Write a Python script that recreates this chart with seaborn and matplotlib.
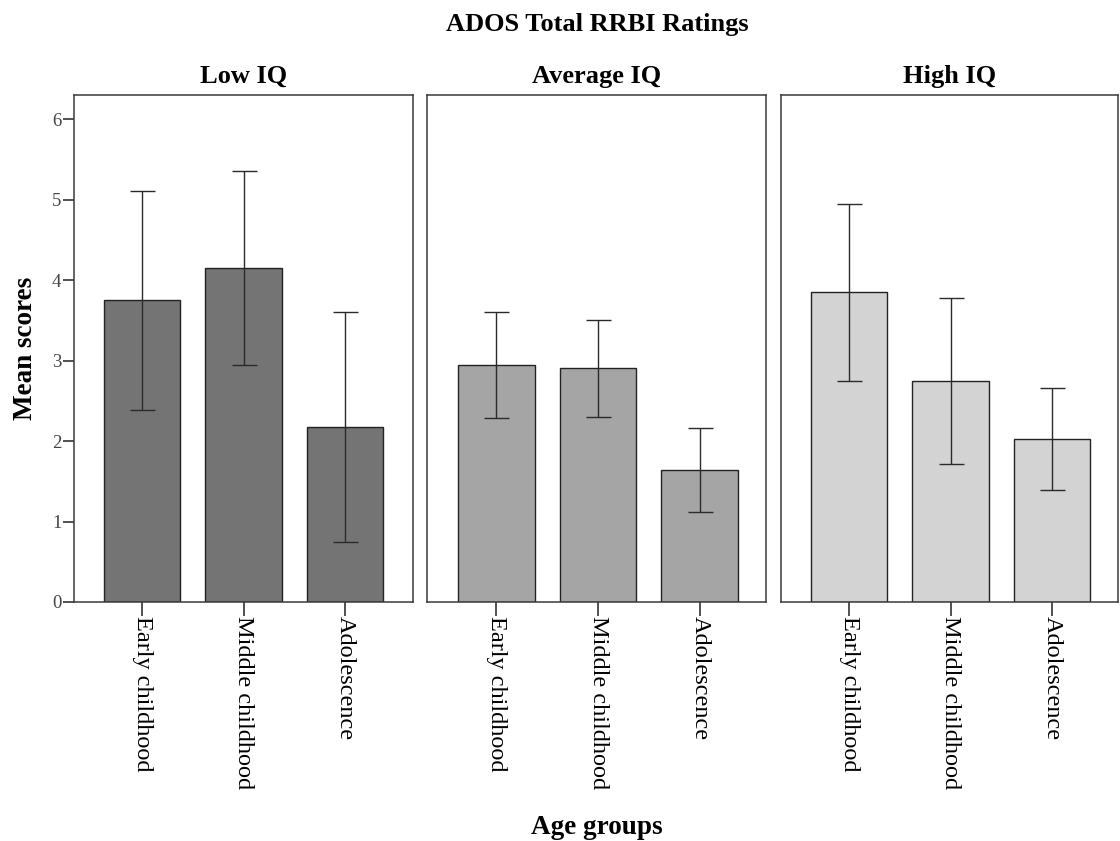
import matplotlib
matplotlib.use("Agg")
import matplotlib.pyplot as plt
import seaborn as sns
import numpy as np

sns.set_theme(style="white")
plt.rcParams['font.family'] = ['Liberation Serif', 'DejaVu Serif']
plt.rcParams['text.color'] = 'black'

panels = ["Low IQ", "Average IQ", "High IQ"]
age_groups = ["Early childhood", "Middle childhood", "Adolescence"]
means = {
    "Low IQ": [3.75, 4.15, 2.17],
    "Average IQ": [2.95, 2.91, 1.64],
    "High IQ": [3.85, 2.75, 2.03],
}
lower = {
    "Low IQ": [2.39, 2.95, 0.74],
    "Average IQ": [2.29, 2.30, 1.12],
    "High IQ": [2.75, 1.72, 1.39],
}
upper = {
    "Low IQ": [5.11, 5.35, 3.60],
    "Average IQ": [3.60, 3.51, 2.16],
    "High IQ": [4.95, 3.78, 2.66],
}
colors = ["#747474", "#a5a5a5", "#d3d3d3"]
yticks = [0, 1, 2, 3, 4, 5, 6]

W, H = 1120, 841
fig = plt.figure(figsize=(W / 100, H / 100), dpi=100)
boxes = [(74, 413, -0.67, 2.67), (427, 766, -0.68, 2.65), (781, 1118, -0.67, 2.65)]
top_px, bot_px = 95, 602

for i, p in enumerate(panels):
    x0, x1, xl0, xl1 = boxes[i]
    ax = fig.add_axes([x0 / W, 1 - bot_px / H, (x1 - x0) / W, (bot_px - top_px) / H])
    sns.barplot(x=age_groups, y=means[p], ax=ax, color=colors[i], width=0.755,
                edgecolor="#222222", linewidth=1.0, saturation=1)
    m = np.array(means[p])
    lo = m - np.array(lower[p])
    hi = np.array(upper[p]) - m
    ax.errorbar(np.arange(len(age_groups)), m, yerr=[lo, hi], fmt="none",
                ecolor="#2a2a2a", elinewidth=1.0, capsize=9, capthick=1.0)
    ax.set_xlim(xl0, xl1)
    ax.set_ylim(0, 6.3)
    ax.set_title(p, fontsize=19, fontweight="bold", pad=9, color="black")
    for s in ax.spines.values():
        s.set_color("#3a3a3a")
        s.set_linewidth(1.1)
    ax.tick_params(axis="x", bottom=True, length=10, width=1.1, color="#222222",
                   labelsize=17.5, pad=0, labelcolor="black")
    ax.set_xticks(np.arange(len(age_groups)))
    ax.set_xticklabels(age_groups, rotation=270, va="top", ha="center")
    if i == 0:
        ax.set_yticks(yticks)
        ax.tick_params(axis="y", left=True, length=8, width=1.1, color="#222222",
                       labelsize=13.5, pad=1, labelcolor="#444444")
        ax.set_ylabel("Mean scores", fontsize=19.5, fontweight="bold", labelpad=10,
                      color="black")
    else:
        ax.set_yticks([])
    ax.set_xlabel("")

fig.text(597 / W, 1 - 24 / H, "ADOS Total RRBI Ratings", ha="center", va="center",
         fontsize=19, fontweight="bold", color="black")
fig.text(597 / W, 1 - 827 / H, "Age groups", ha="center", va="center",
         fontsize=19.5, fontweight="bold", color="black")

fig.savefig("out.png", dpi=100, facecolor="white")
